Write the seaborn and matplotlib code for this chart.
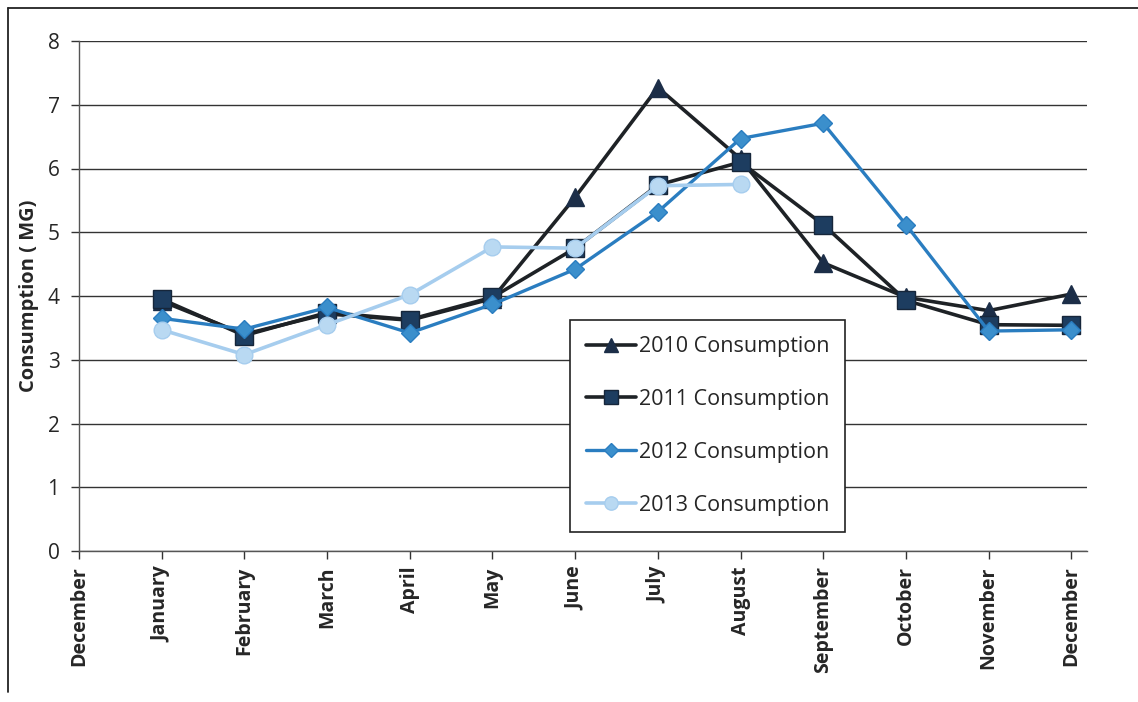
import matplotlib
matplotlib.use("Agg")
import matplotlib.pyplot as plt
from matplotlib.lines import Line2D
import seaborn as sns
import pandas as pd

# Axis categories: a leading December slot, then the twelve months
categories = ["December", "January", "February", "March", "April", "May", "June",
              "July", "August", "September", "October", "November", "December"]
months = categories[1:]

# Monthly consumption in million gallons (MG)
cons_2010 = [3.92, 3.40, 3.72, 3.62, 3.96, 5.55, 7.27, 6.15, 4.52, 3.98, 3.77, 4.03]
cons_2011 = [3.95, 3.38, 3.74, 3.63, 3.98, 4.75, 5.74, 6.10, 5.12, 3.93, 3.55, 3.54]
cons_2012 = [3.65, 3.48, 3.82, 3.42, 3.87, 4.42, 5.32, 6.47, 6.71, 5.12, 3.45, 3.47]
cons_2013 = [3.47, 3.08, 3.55, 4.02, 4.77, 4.75, 5.73, 5.75]

series = {
    "2010 Consumption": cons_2010,
    "2011 Consumption": cons_2011,
    "2012 Consumption": cons_2012,
    "2013 Consumption": cons_2013,
}

rows = []
for name, vals in series.items():
    for i, v in enumerate(vals):
        rows.append({"series": name, "pos": i + 1, "month": months[i], "value": v})
df = pd.DataFrame(rows)

styles = {
    "2010 Consumption": dict(color="#1e2226", marker="^", ms=13, mfc="#1c2e48", mec="#1c2e48", lw=2.6),
    "2011 Consumption": dict(color="#1e2226", marker="s", ms=13, mfc="#1d3d60", mec="#16263a", lw=2.6),
    "2012 Consumption": dict(color="#2a7dc0", marker="D", ms=9, mfc="#3b8fcc", mec="#2a7dc0", lw=2.4),
    "2013 Consumption": dict(color="#a6cdee", marker="o", ms=12, mfc="#b9d9f2", mec="#a6cdee", lw=2.6),
}

sns.set_style("white")
plt.rcParams["font.family"] = ["Open Sans", "DejaVu Sans"]

fig = plt.figure(figsize=(11.38, 7.02), dpi=100)
ax = fig.add_axes([79 / 1138, 1 - 551 / 702, (1087 - 79) / 1138, (551 - 41) / 702])

for name in series:
    st = styles[name]
    sub = df[df["series"] == name]
    sns.lineplot(data=sub, x="pos", y="value", ax=ax, label=name,
                 color=st["color"], linewidth=st["lw"], marker=st["marker"],
                 markersize=st["ms"], markerfacecolor=st["mfc"],
                 markeredgecolor=st["mec"], markeredgewidth=1.0)

ax.set_xlim(0, 12.19)
ax.set_ylim(0, 8)
ax.set_yticks(range(0, 9))
ax.set_xticks(range(len(categories)))
ax.set_xticklabels(categories, rotation=90, fontsize=14, fontweight="bold")
ax.tick_params(axis="y", labelsize=15, length=6, width=1, color="#333333", pad=8,
               left=True)
ax.tick_params(axis="x", length=6, width=1, color="#333333", pad=5, bottom=True)
ax.set_xlabel("")
ax.set_ylabel("Consumption ( MG)", fontsize=14.5, fontweight="bold", labelpad=6)

ax.grid(axis="y", color="#333333", linewidth=1.0)
ax.grid(axis="x", visible=False)
for side in ("top", "right"):
    ax.spines[side].set_visible(False)
for side in ("left", "bottom"):
    ax.spines[side].set_color("#555555")
    ax.spines[side].set_linewidth(1.0)

leg = ax.legend(loc="upper left", bbox_to_anchor=(0.487, 0.453), borderaxespad=0,
                fontsize=15.5, frameon=True, fancybox=False, framealpha=1,
                edgecolor="#222222", labelspacing=1.48, handlelength=2.3,
                handletextpad=0.15, borderpad=0.75, markerscale=0.8)
leg.get_frame().set_linewidth(1.2)

# Page frame along the top and left edges
fig.add_artist(Line2D([8 / 1138, 1.0], [1 - 8 / 702, 1 - 8 / 702], color="#222222", lw=1.3))
fig.add_artist(Line2D([8 / 1138, 8 / 1138], [1 - 8 / 702, 1 - 692 / 702], color="#222222", lw=1.3))

fig.savefig("out.png", dpi=100)
